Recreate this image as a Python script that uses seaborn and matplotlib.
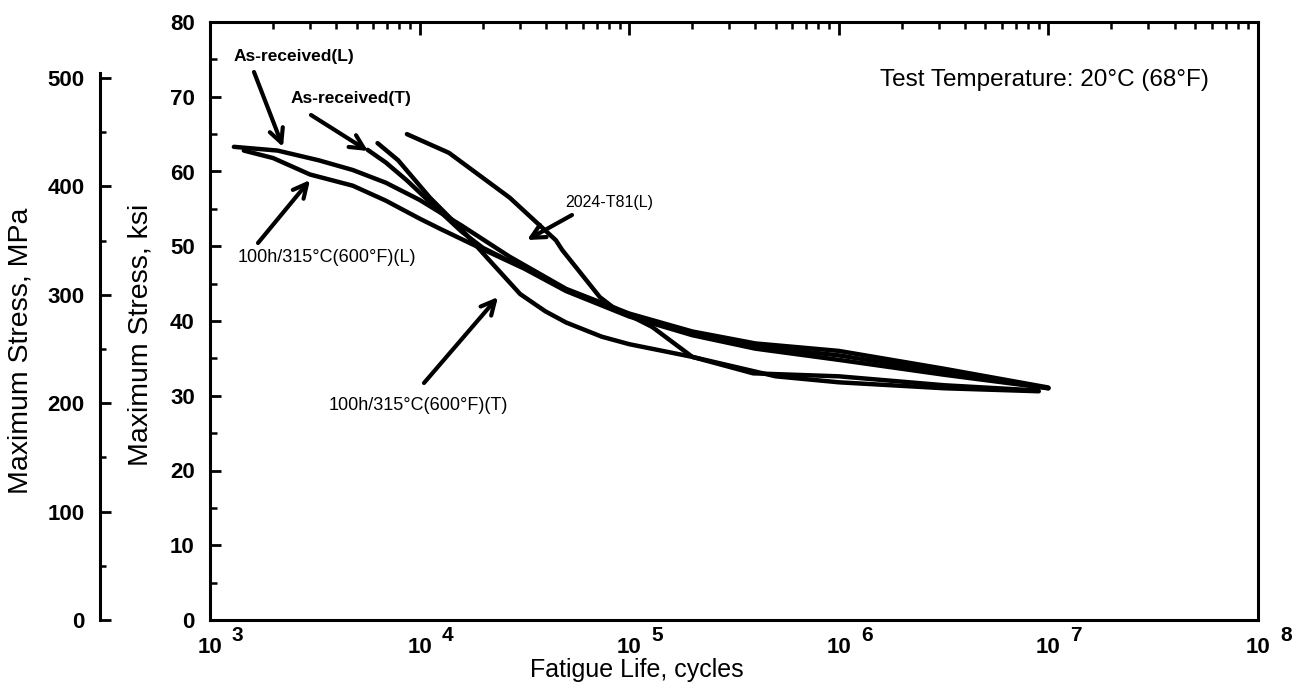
import matplotlib
matplotlib.use("Agg")
import matplotlib.pyplot as plt
import matplotlib.ticker as mticker
import numpy as np
import pandas as pd
import seaborn as sns

# ---------------- data ----------------
asrec_L_cycles = [1300, 2100, 3300, 4800, 6900, 10000, 15800, 26900, 50000, 100000, 200000, 400000, 1000000, 3200000, 10000000]
asrec_L_ksi    = [63.3, 62.8, 61.5, 60.2, 58.5, 56.2, 52.8, 48.6, 44.3, 41.0, 38.6, 37.0, 36.0, 33.6, 31.1]

h100_L_cycles = [1450, 2000, 3000, 4800, 6900, 10000, 12600, 20000, 31600, 50000, 100000, 200000, 400000, 1000000, 3200000, 10000000]
h100_L_ksi    = [62.8, 61.8, 59.6, 58.1, 56.1, 53.7, 52.3, 49.6, 47.0, 44.0, 40.6, 38.1, 36.3, 34.8, 32.8, 31.0]

asrec_T_cycles = [5650, 6900, 8700, 11500, 15800, 20000, 26900, 31600, 50000, 100000, 200000, 400000, 1000000, 3200000, 10000000]
asrec_T_ksi    = [62.9, 61.2, 58.8, 55.6, 52.0, 49.8, 48.0, 47.3, 44.2, 40.8, 38.4, 36.6, 35.4, 33.2, 31.0]

h100_T_cycles = [6300, 7900, 11200, 15800, 21400, 30200, 39800, 50000, 74000, 100000, 200000, 500000, 1000000, 3200000, 9000000]
h100_T_ksi    = [63.8, 61.5, 56.5, 52.3, 48.2, 43.6, 41.3, 39.8, 37.9, 36.9, 35.2, 32.6, 31.8, 31.0, 30.6]

t81_L_cycles = [8700, 13800, 26900, 44700, 47900, 72400, 83200, 128800, 200000, 390000, 1000000, 3200000, 8900000]
t81_L_ksi    = [65.0, 62.5, 56.5, 50.8, 49.5, 43.2, 41.9, 39.2, 35.2, 33.0, 32.6, 31.4, 30.7]

series_names = ["As-received(L)", "100h/315°C(600°F)(L)", "As-received(T)",
                "100h/315°C(600°F)(T)", "2024-T81(L)"]

x_major_exponents = [3, 4, 5, 6, 7, 8]
ksi_ticks = [0, 10, 20, 30, 40, 50, 60, 70, 80]
mpa_ticks = [0, 100, 200, 300, 400, 500]
KSI_TO_MPA = 6.894757

# ---------------- build table ----------------
frames = []
for name, cyc, ksi in zip(series_names,
                          [asrec_L_cycles, h100_L_cycles, asrec_T_cycles, h100_T_cycles, t81_L_cycles],
                          [asrec_L_ksi, h100_L_ksi, asrec_T_ksi, h100_T_ksi, t81_L_ksi]):
    frames.append(pd.DataFrame({"cycles": cyc, "ksi": ksi, "specimen": name}))
df = pd.concat(frames, ignore_index=True)

# ---------------- style ----------------
sns.set_style("white")
plt.rcParams["font.family"] = ["Liberation Sans", "DejaVu Sans"]
for key in ["text.color", "axes.labelcolor", "xtick.color", "ytick.color", "axes.edgecolor"]:
    plt.rcParams[key] = "black"

fig = plt.figure(figsize=(13.10, 6.93), dpi=100)
ax = fig.add_axes([210/1310, 1-620/693, (1258-210)/1310, (620-22)/693])

sns.lineplot(data=df, x="cycles", y="ksi", units="specimen", estimator=None,
             sort=False, color="black", lw=3.2, ax=ax, legend=False)

ax.set_xscale("log")
ax.set_xlim(1e3, 1e8)
ax.set_ylim(0, 80)

for s in ax.spines.values():
    s.set_linewidth(2.2)
    s.set_color("black")

ax.xaxis.set_major_locator(mticker.FixedLocator([10.0**e for e in x_major_exponents]))
ax.xaxis.set_minor_locator(mticker.LogLocator(base=10, subs=np.arange(2, 10), numticks=20))
ax.set_xticklabels(["10"] * len(x_major_exponents))
ax.xaxis.set_minor_formatter(mticker.NullFormatter())
ax.set_yticks(ksi_ticks)
ax.yaxis.set_minor_locator(mticker.MultipleLocator(5))

ax.tick_params(which="major", direction="in", length=9, width=2.0,
               top=True, right=True, labelsize=16, pad=12, color="black", labelcolor="black")
ax.tick_params(which="minor", direction="in", length=5, width=1.8,
               top=True, right=True, color="black")
ax.tick_params(axis="y", which="major", length=8, pad=11)
for lbl in ax.get_xticklabels() + ax.get_yticklabels():
    lbl.set_fontweight("bold")

for e in x_major_exponents:
    ax.annotate(str(e), xy=(10.0**e, 0), xycoords=("data", "axes fraction"),
                xytext=(20, -11), textcoords="offset points",
                ha="center", va="center", fontsize=15, fontweight="bold", color="black")

ax.set_xlabel("Fatigue Life, cycles", fontsize=18, color="black")
ax.xaxis.set_label_coords(0.407, -0.064)
ax.set_ylabel("Maximum Stress, ksi", fontsize=20.5, color="black")
ax.yaxis.set_label_coords(-0.054, 0.477)

# MPa axis on the far left
ax2 = ax.twinx()
ax2.set_ylim(0, 80 * KSI_TO_MPA)
ax2.yaxis.set_ticks_position("left")
ax2.yaxis.set_label_position("left")
ax2.spines["left"].set_position(("outward", 110 * 72 / 100))
ax2.spines["left"].set_bounds(0, 505)
ax2.spines["left"].set_linewidth(2.2)
ax2.spines["left"].set_color("black")
for k in ["right", "top", "bottom"]:
    ax2.spines[k].set_visible(False)
ax2.set_yticks(mpa_ticks)
ax2.yaxis.set_minor_locator(mticker.FixedLocator([50, 150, 250, 350, 450]))
ax2.tick_params(axis="y", which="major", direction="in", length=8, width=2.0,
                labelsize=16, pad=11, left=True, right=False,
                labelleft=True, labelright=False, color="black", labelcolor="black")
ax2.tick_params(axis="y", which="minor", direction="in", length=4, width=1.8,
                left=True, right=False, color="black")
for lbl in ax2.get_yticklabels():
    lbl.set_fontweight("bold")
ax2.set_ylabel("Maximum Stress, MPa", fontsize=20.5, color="black")
ax2.yaxis.set_label_coords(-0.168, 0.45)

arrow_kw = dict(arrowstyle="->,head_length=1.0,head_width=0.5", lw=3.0, color="black",
                shrinkA=0, shrinkB=0)

def px_to_data(px, py):
    lx = 3 + (px - 210) / 209.6
    return 10 ** lx, (620 - py) / 7.475

def note(text, text_px, tail_px, tip_px, size, weight):
    tx, ty = px_to_data(*text_px)
    ax.text(tx, ty, text, ha="center", va="center", fontsize=size, fontweight=weight, color="black")
    ax.annotate("", xy=px_to_data(*tip_px), xytext=px_to_data(*tail_px), arrowprops=arrow_kw)

note("As-received(L)", (294, 56), (254, 72), (283, 147), 12.5, "bold")
note("As-received(T)", (351, 99), (311, 115), (368, 151), 12.5, "bold")
note("100h/315°C(600°F)(L)", (327, 258), (258, 243), (310, 180), 13, "normal")
note("2024-T81(L)", (609, 203), (572, 215), (527, 240), 11.5, "normal")
note("100h/315°C(600°F)(T)", (418, 406), (424, 383), (498, 297), 13, "normal")

tx, ty = px_to_data(1044, 80)
ax.text(tx, ty, "Test Temperature: 20°C (68°F)", ha="center", va="center", fontsize=17.5, color="black")

fig.savefig("out.png", dpi=100)
